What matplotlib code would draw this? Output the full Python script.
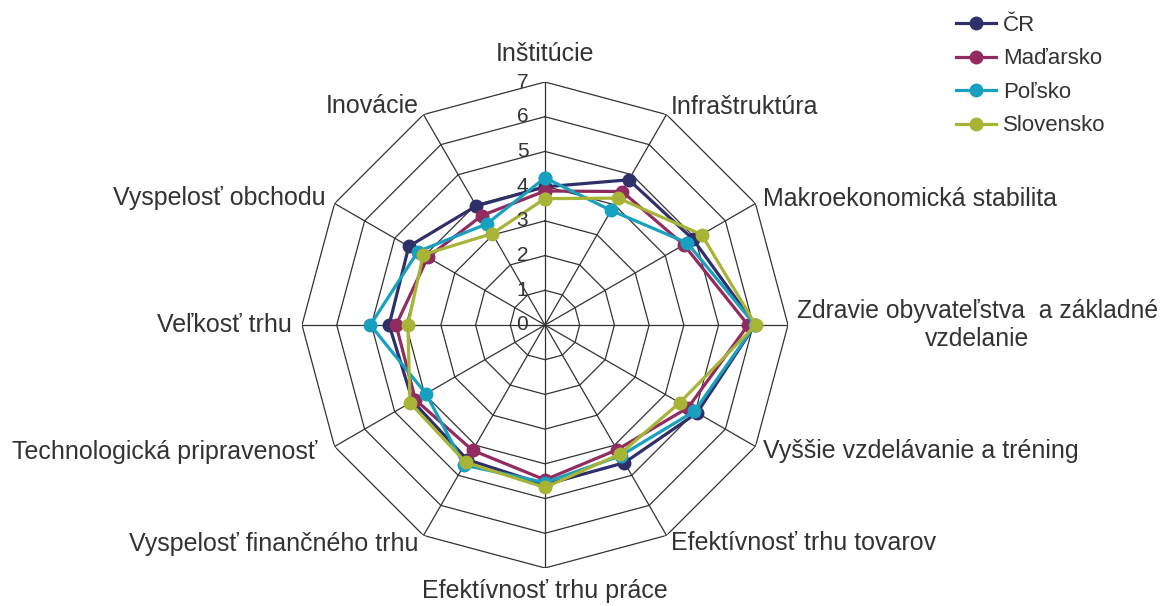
import numpy as np
import matplotlib
matplotlib.use("Agg")
import matplotlib.pyplot as plt

plt.rcParams['font.family'] = ['Liberation Sans', 'DejaVu Sans']

categories = [
    "Inštitúcie", "Infraštruktúra", "Makroekonomická stabilita",
    "Zdravie obyvateľstva  a základné\nvzdelanie",
    "Vyššie vzdelávanie a tréning", "Efektívnosť trhu tovarov",
    "Efektívnosť trhu práce", "Vyspelosť finančného trhu",
    "Technologická pripravenosť", "Veľkosť trhu", "Vyspelosť obchodu",
    "Inovácie",
]
series_names = ["ČR", "Maďarsko", "Poľsko", "Slovensko"]
cr        = [3.98, 4.83, 4.93, 6.05, 5.06, 4.58, 4.60, 4.48, 4.40, 4.49, 4.53, 3.96]
madarsko  = [3.86, 4.44, 4.62, 5.85, 4.76, 4.15, 4.46, 4.17, 4.31, 4.29, 3.90, 3.64]
polsko    = [4.24, 3.81, 4.73, 6.05, 4.97, 4.35, 4.54, 4.66, 3.96, 5.03, 4.23, 3.36]
slovensko = [3.64, 4.22, 5.21, 6.07, 4.48, 4.30, 4.68, 4.57, 4.49, 3.95, 4.05, 3.04]
r_ticks = [0, 1, 2, 3, 4, 5, 6, 7]

colors = ["#2F2F6A", "#922B5F", "#17A0BF", "#A8B436"]
data = [cr, madarsko, polsko, slovensko]

W, H = 1162, 606
fig = plt.figure(figsize=(W / 100, H / 100), dpi=100)
cx, cy, R = 545, 325, 243
ax = fig.add_axes([(cx - R) / W, (H - cy - R) / H, 2 * R / W, 2 * R / H], projection='polar')
ax.set_theta_zero_location('N')
ax.set_theta_direction(-1)
ax.set_ylim(0, 7)
ax.grid(False)
ax.spines['polar'].set_visible(False)
ax.set_xticks([])
ax.set_yticks([])
ax.patch.set_alpha(0)

n = len(categories)
theta = np.arange(n) * 2 * np.pi / n
theta_c = np.append(theta, theta[0])

gcol = "#333333"
for r in r_ticks[1:]:
    ax.plot(theta_c, [r] * (n + 1), color=gcol, lw=0.9, zorder=1)
for t in theta:
    ax.plot([t, t], [0, 7], color=gcol, lw=0.9, zorder=1)

for name, vals, c in zip(series_names, data, colors):
    v = np.append(vals, vals[0])
    ax.plot(theta_c, v, color=c, lw=2.3, marker='o', markersize=9, label=name, zorder=3)

# radial tick labels
for r in r_ticks:
    ax.annotate(str(r), xy=(0, r), xytext=(-12, 0), textcoords='offset points',
                ha='right', va='center', fontsize=15, color='#333333',
                annotation_clip=False)

# category labels
for i, (t, lab) in enumerate(zip(theta, categories)):
    deg = np.degrees(t) % 360
    dx = 0
    if i == 0:
        ha, va, rr = 'center', 'bottom', 7.45
    elif i == 6:
        ha, va, rr = 'center', 'top', 7.33
    elif deg < 180:
        ha, va, rr = 'left', 'center', 7.25
    else:
        ha, va, rr = 'right', 'center', 7.3
    if i == 8:
        dx = -6
    fs = 17.8 if i == 3 else 18
    ax.annotate(lab, xy=(t, rr), xytext=(dx, 0), textcoords='offset points',
                ha=ha, va=va, fontsize=fs, color='#333333', multialignment='center',
                annotation_clip=False)

leg = fig.legend(loc='upper left', bbox_to_anchor=(956 / W, 1 - 15 / H), frameon=False,
                 fontsize=16, handlelength=1.8, handletextpad=0.3, labelspacing=0.56,
                 borderaxespad=0, borderpad=0)
for t in leg.get_texts():
    t.set_color('#333333')

fig.savefig("out.png", dpi=100)
